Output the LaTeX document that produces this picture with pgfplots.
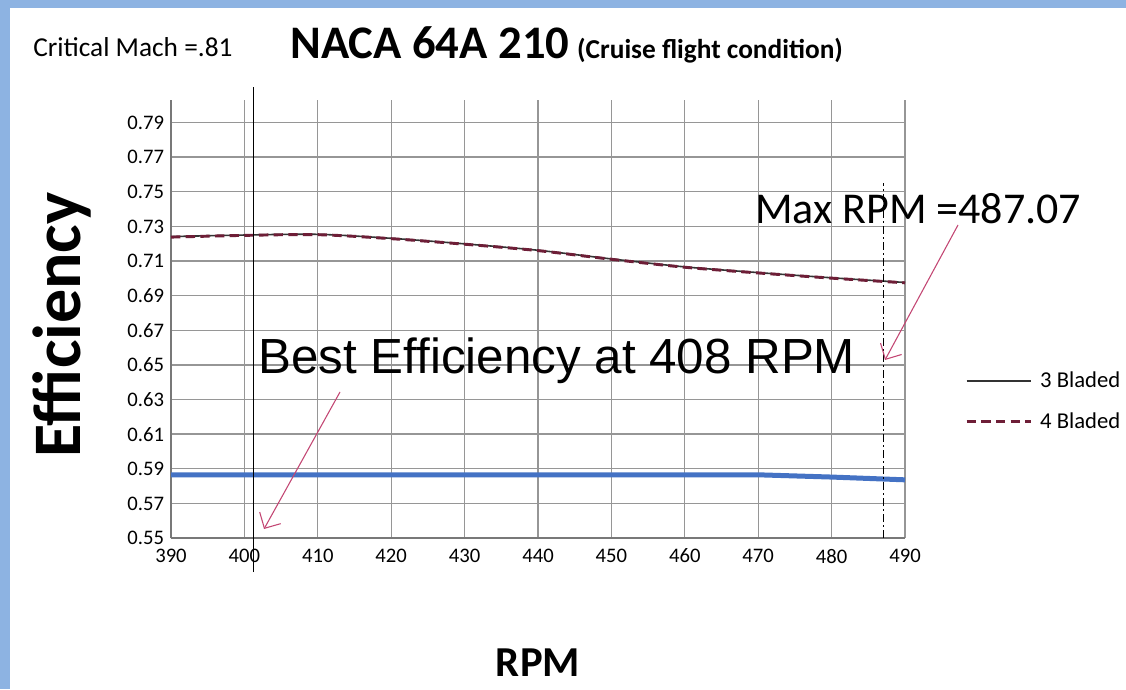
\documentclass[border=0pt]{standalone}
\usepackage{pgfplots}
\pgfplotsset{compat=1.18}
\usetikzlibrary{arrows.meta}
\usepackage{fontspec}
\setmainfont{Carlito}
\newfontfamily\arialfont{Liberation Sans}
\definecolor{frameblue}{RGB}{141,179,226}
\definecolor{lineblue}{RGB}{68,114,196}
\definecolor{arrowpink}{RGB}{195,70,115}
\definecolor{maroon}{RGB}{110,30,55}
\definecolor{gridgray}{RGB}{150,150,150}

\begin{document}
\begin{tikzpicture}[x=0.75pt,y=0.75pt]
\fill[white] (0,0) rectangle (1126,689);
\path[use as bounding box] (0,0) rectangle (1126,689);
\fill[frameblue] (0,0) rectangle (10,689);
\fill[frameblue] (0,681) rectangle (1126,689);

\begin{axis}[
  at={(128.25pt,113.25pt)}, anchor=south west,
  scale only axis, width=550.5pt, height=328.5pt,
  xmin=390, xmax=490, ymin=0.55, ymax=0.803,
  clip=false,
  axis x line*=bottom, axis y line*=left,
  axis line style={gridgray!80!black, line width=1pt},
  xtick={390,400,...,490},
  ytick={0.55,0.57,0.59,0.61,0.63,0.65,0.67,0.69,0.71,0.73,0.75,0.77,0.79},
  major tick length=0pt,
  grid=major,
  major grid style={gridgray, line width=1pt},
  ticklabel style={font=\fontsize{15.5}{18}\selectfont, inner sep=0pt},
  yticklabel style={xshift=-5pt, /pgf/number format/fixed, /pgf/number format/fixed zerofill, /pgf/number format/precision=2},
  xticklabel style={yshift=-8pt},
  /pgf/number format/assume math mode=true,
  legend style={at={(1.0817,0.3128)}, anchor=west, draw=none, fill=none,
    font=\fontsize{17}{20}\selectfont, row sep=13pt, inner sep=0pt, column sep=4pt},
  legend cell align=left,
  legend image code/.code={\draw[#1] (0pt,0pt) -- (48pt,0pt);},
]
% blue series (not in legend)
\addplot[forget plot, lineblue, line width=3.75pt] coordinates {
  (390,0.5865) (400,0.5865) (410,0.5865) (420,0.5865) (430,0.5865)
  (440,0.5865) (450,0.5865) (460,0.5865) (470,0.5865) (480,0.5852) (490,0.5836)};

\addplot[black!80, line width=1.2pt, smooth] coordinates {
  (390,0.7241) (400,0.7250) (410,0.7254) (420,0.7231) (430,0.7199)
  (440,0.7162) (450,0.7112) (460,0.7066) (470,0.7033) (480,0.7003) (490,0.6976)};
\addlegendentry{3 Bladed}

\addplot[maroon, line width=2.2pt, dash pattern=on 7pt off 4pt, smooth] coordinates {
  (390,0.7238) (400,0.7248) (410,0.7252) (420,0.7229) (430,0.7197)
  (440,0.7160) (450,0.7110) (460,0.7064) (470,0.7031) (480,0.7001) (490,0.6974)};
\addlegendentry{4 Bladed}

% markers for best and max RPM
\addplot[forget plot, black, line width=1pt] coordinates {(401.2,0.5303) (401.2,0.8105)};
\addplot[forget plot, black, line width=1.2pt, dash pattern=on 6pt off 2.5pt on 1pt off 2.5pt]
  coordinates {(487.07,0.55) (487.07,0.755)};
\end{axis}

\node[anchor=base west, inner sep=0pt, font=\fontsize{20.5}{24}\selectfont] at (33,632) {Critical Mach =.81};
\node[anchor=base west, inner sep=0pt, font=\bfseries\fontsize{35}{40}\selectfont] at (290,630)
  {NACA 64A 210\,{\fontsize{20.5}{24}\selectfont(Cruise flight condition)}};
\node[rotate=90, inner sep=0pt, font=\bfseries\fontsize{51}{57}\selectfont] at (62,364) {Efficiency};
\node[anchor=base, inner sep=0pt, font=\bfseries\fontsize{32}{36}\selectfont] at (538,13) {RPM};
\node[anchor=base west, inner sep=0pt, font=\arialfont\fontsize{37}{42}\selectfont] at (258,315) {Best Efficiency at 408 RPM};
\node[anchor=base west, inner sep=0pt, font=\fontsize{33}{38}\selectfont] at (755,465) {Max RPM =487.07};
\draw[arrowpink, line width=0.8pt, -{Straight Barb[length=9pt]}] (340,297) -- (264,160);
\draw[arrowpink, line width=0.8pt, -{Straight Barb[length=9pt]}] (958,464) -- (885,329);
\end{tikzpicture}
\end{document}
